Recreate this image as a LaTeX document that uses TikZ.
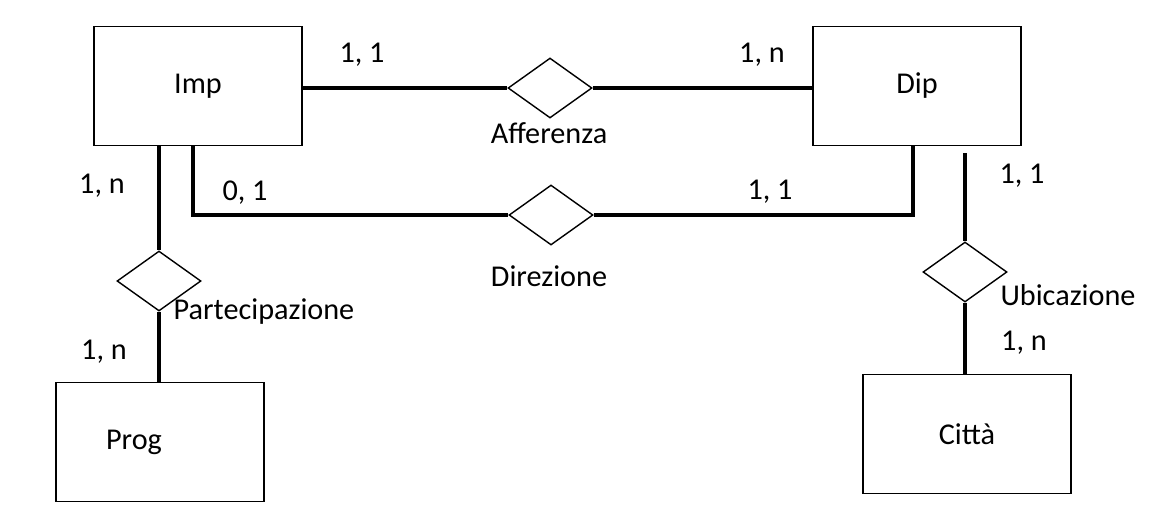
\documentclass[tikz,border=0pt]{standalone}
\usepackage{fontspec}
\setmainfont{Carlito}
\usetikzlibrary{shapes.geometric,positioning}

\begin{document}
\begin{tikzpicture}[x=0.02cm,y=-0.02cm,
  every node/.style={font=\fontsize{17.2}{20}\selectfont},
  entita/.style={draw,line width=0.8pt,minimum width=4.16cm,minimum height=2.38cm},
  relaz/.style={draw,diamond,line width=0.8pt,minimum width=1.68cm,minimum height=1.2cm,inner sep=0pt},
  ramo/.style={line width=2pt}]
  \useasboundingbox (0,0) rectangle (1155,525);
  % entita
  \node[entita] (imp) at (198,86) {Imp};
  \node[entita] (dip) at (917,86) {Dip};
  \node[entita,label={[xshift=-0.52cm]center:Prog}] (prog) at (160,442) {};
  \node[entita] (citta) at (967,434) {Città};
  % relazioni
  \node[relaz] (aff) at (550,88) {};
  \node[relaz] (dir) at (551,215) {};
  \node[relaz] (part) at (159,281) {};
  \node[relaz] (ubic) at (965,272) {};
  \node (affnome) at (549,133) {Afferenza};
  \node (dirnome) at (549,276) {Direzione};
  \node (partnome) at (264,312) {Partecipazione};
  \node (ubicnome) at (1068,295) {Ubicazione};
  % rami
  \draw[ramo] (imp.east |- aff.west) -- (aff.west);
  \draw[ramo] (aff.east) -- (dip.west |- aff.east);
  \draw[ramo] ([xshift=-0.1cm]imp.south) |- (dir.west);
  \draw[ramo] (dir.east) -| ([xshift=-0.08cm]dip.south);
  \draw[ramo] (imp.south -| part.north) -- (part.north);
  \draw[ramo] (part.south) -- (prog.north -| part.south);
  \draw[ramo,shorten <=4pt] (dip.south -| ubic.north) -- (ubic.north);
  \draw[ramo] (ubic.south) -- (citta.north -| ubic.south);
  % cardinalita
  \node (c1) at (362,55) {1, 1};
  \node (c2) at (762,55) {1, n};
  \node (c3) at (102,186) {1, n};
  \node (c4) at (245,193) {0, 1};
  \node (c5) at (770,192) {1, 1};
  \node (c6) at (1022,176) {1, 1};
  \node (c7) at (104,352) {1, n};
  \node (c8) at (1024,343) {1, n};
\end{tikzpicture}
\end{document}
